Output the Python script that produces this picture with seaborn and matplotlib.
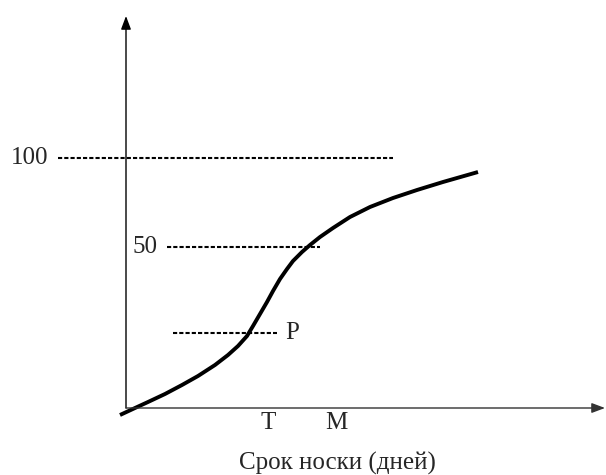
import matplotlib
matplotlib.use("Agg")
import matplotlib.pyplot as plt
import seaborn as sns
import pandas as pd

## Curve: wear time vs level (schematic units, origin at axis crossing)
days = [-6, 9, 22, 39, 56, 72, 89, 102, 112, 121, 127, 134, 141, 147, 154,
        161, 167, 176, 184, 194, 207, 224, 244, 267, 291, 317, 352]
level = [-7, 0, 6, 14, 23, 32, 43, 53, 62, 72, 82, 94, 106, 117, 129,
         139, 147, 156, 163, 171, 180, 191, 201, 210, 218, 226, 236]

## Reference levels: (label, y, x start, x end)
ref_labels = ["100", "50", "P"]
ref_y = [250, 161, 75]
ref_x0 = [-68, 41, 47]
ref_x1 = [267, 194, 151]

## Marks on the x axis
x_marks = ["T", "M"]
x_mark_pos = [142, 210]

sns.set_style("white")
plt.rcParams["font.family"] = ["Liberation Serif", "DejaVu Serif"]

fig = plt.figure(figsize=(6.06, 4.75), dpi=100)
ax = fig.add_axes([0, 0, 1, 1])
ax.set_xlim(-126, 480)
ax.set_ylim(-67, 408)
ax.axis("off")

df = pd.DataFrame({"days": days, "level": level})
sns.lineplot(data=df, x="days", y="level", color="black", lw=2.8, ax=ax,
             solid_joinstyle="round", solid_capstyle="butt")

for y, x0, x1 in zip(ref_y, ref_x0, ref_x1):
    ax.plot([x0, x1], [y, y], color="black", lw=1.5, dashes=(2, 1))

# axes with arrows
ax.annotate("", xy=(0, 392), xytext=(0, 0),
            arrowprops=dict(arrowstyle="-|>,head_length=0.8,head_width=0.3",
                            color="black", lw=1.0, shrinkA=0, shrinkB=0))
ax.annotate("", xy=(479, 0), xytext=(0, 0),
            arrowprops=dict(arrowstyle="-|>,head_length=0.8,head_width=0.3",
                            color="#333333", lw=1.0, shrinkA=0, shrinkB=0))

# labels
ax.text(-78, ref_y[0], ref_labels[0], ha="right", va="center", fontsize=18)
ax.text(31, ref_y[1], ref_labels[1], ha="right", va="center", fontsize=18)
ax.text(159, ref_y[2], ref_labels[2], ha="left", va="center", fontsize=18)
for lab, x in zip(x_marks, x_mark_pos):
    ax.text(x, -15, lab, ha="center", va="center", fontsize=18)
ax.text(211, -55, "Срок носки (дней)", ha="center", va="center", fontsize=18)

fig.savefig("out.png", dpi=100)
